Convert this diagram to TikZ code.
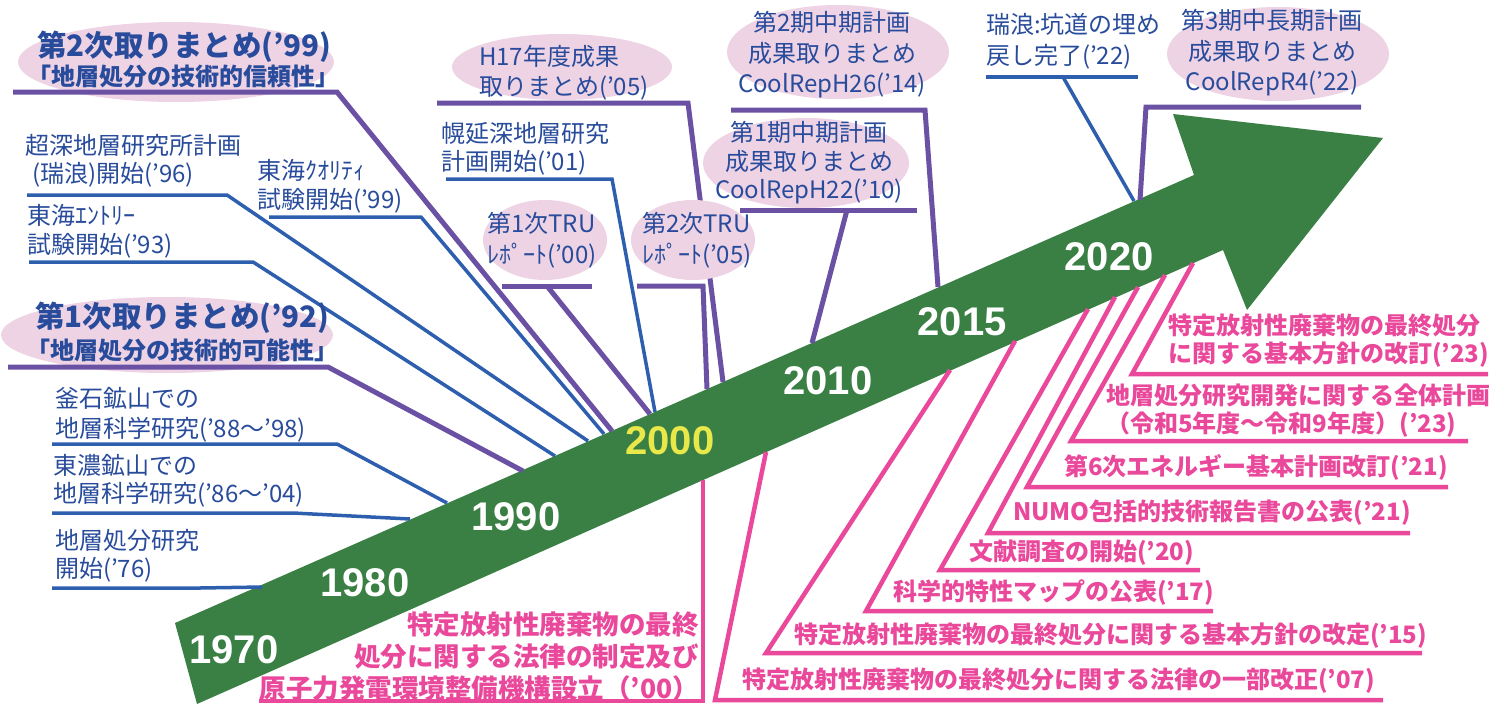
\documentclass[tikz,border=0pt]{standalone}
\usepackage{fontspec}
\setmainfont{Noto Sans CJK JP}
\newfontfamily\yearfont{Liberation Sans}
\usepackage{tikz}

\definecolor{bandgreen}{HTML}{3A8045}
\definecolor{lineblue}{HTML}{2E5FAF}
\definecolor{textblue}{HTML}{284B9B}
\definecolor{linepurple}{HTML}{6A51A3}
\definecolor{pinkline}{HTML}{E9489B}
\definecolor{bubble}{HTML}{EDD3E4}
\definecolor{yellow2000}{HTML}{E8E84B}

\begin{document}
\begin{tikzpicture}[x=1pt,y=-1pt,
  txtblue/.style={text=textblue,font=\fontsize{24}{28.5}\selectfont,inner sep=0pt,align=left,anchor=west},
  txtloose/.style={txtblue,font=\fontsize{24}{30.5}\selectfont},
  txtbig/.style={text=textblue,font=\bfseries\fontsize{29.5}{30}\selectfont,inner sep=0pt,anchor=west},
  txtsub/.style={text=textblue,font=\bfseries\fontsize{24}{26}\selectfont,inner sep=0pt,anchor=west},
  txtpink/.style={text=pinkline,font=\bfseries\fontsize{24}{28}\selectfont,inner sep=0pt,align=left,anchor=west},
  lnblue/.style={draw=lineblue,line width=3.5pt},
  lnpurple/.style={draw=linepurple,line width=5pt},
  lnpink/.style={draw=pinkline,line width=4.5pt},
  yearlbl/.style={text=white,font=\yearfont\bfseries\fontsize{40}{40}\selectfont,inner sep=0pt}]
  \useasboundingbox (0,0) rectangle (1504,704);
  \def\bub#1#2#3#4{\fill[bubble] (#1,#2) ellipse [x radius=#3,y radius=#4];}

  % bubbles behind the reports
  \bub{176}{62}{158}{40}
  \bub{167}{335}{166}{38}
  \bub{562}{67}{110}{33}
  \bub{838}{52}{111}{47}
  \bub{806}{163}{103}{45}
  \bub{545}{240}{62}{40}
  \bub{1278}{54}{111}{47}

  % the time arrow
  \fill[bandgreen] (175,623) -- (1194,175) -- (1173,114) -- (1383,138)
    -- (1247,310) -- (1223,250) -- (197,704) -- cycle;

  % blue leaders: underline from s to knee k, then down to the arrow at e
  \foreach \nm/\sx/\kx/\ky/\ex/\ey in {kaishi/52/200/588/262/587, tono/52/293/513/410/519,
      kama/52/337/444/447/503, entry/29/253/262/555/456, choshin/27/227/195/588/441,
      quality/269/421/217/604/434, horo/446/612/179/655/412} {
    \coordinate (\nm-s) at (\sx,\ky);
    \coordinate (\nm-k) at (\kx,\ky);
    \coordinate (\nm-e) at (\ex,\ey);
    \draw[lnblue] (\nm-s) -- (\nm-k) -- (\nm-e);
  }
  % purple leaders
  \foreach \nm/\sx/\kx/\ky/\ex/\ey in {matome2/13/337/92/612/431, matome1/8/328/367/523/471,
      tru2/637/703/286/707/389, hseventeen/437/688/103/723/382, kiki2/731/925/110/938/287,
      kiki3/1361/1146/107/1140/200} {
    \coordinate (\nm-s) at (\sx,\ky);
    \coordinate (\nm-k) at (\kx,\ky);
    \coordinate (\nm-e) at (\ex,\ey);
    \draw[lnpurple] (\nm-s) -- (\nm-k) -- (\nm-e);
  }
  % leaders that start in the middle of their underline
  \coordinate (mizu-s) at (986,77);  \coordinate (mizu-r) at (1138,77);
  \coordinate (mizu-k) at (1063,77); \coordinate (mizu-e) at (1134,201);
  \draw[lnblue] (mizu-s) -- (mizu-r);
  \draw[lnblue] (mizu-k) -- (mizu-e);
  \coordinate (tru1-s) at (502,286); \coordinate (tru1-r) at (592,286);
  \coordinate (tru1-k) at (547,286); \coordinate (tru1-e) at (650,414);
  \draw[lnpurple] (tru1-s) -- (tru1-r);
  \draw[lnpurple] (tru1-k) -- (tru1-e);
  \coordinate (kiki1-s) at (740,210); \coordinate (kiki1-r) at (917,210);
  \coordinate (kiki1-k) at (847,210); \coordinate (kiki1-e) at (812,343);
  \draw[lnpurple] (kiki1-s) -- (kiki1-r);
  \draw[lnpurple] (kiki1-k) -- (kiki1-e);
  % this bubble hides the H17 leader behind it
  \bub{693}{240}{62}{40}

  % pink leaders below the arrow, with their labels
  \foreach \nm/\bx/\by/\kx/\ky/\ex/\tx/\ty/\txt in {
      kaitei23/1193/263/1132/374/1488/1168/341/{特定放射性廃棄物の最終処分\\に関する基本方針の改訂('23)},
      zentai23/1165/275/1071/441/1468/1106/411/{地層処分研究開発に関する全体計画\\（令和5年度～令和9年度）('23)},
      energy21/1138/287/1027/487/1448/1064/467/{第6次エネルギー基本計画改訂('21)},
      numo21/1115/297/988/533/1410/1013/513/{NUMO包括的技術報告書の公表('21)},
      bunken20/1088/309/940/570/1200/969/553/{文献調査の開始('20)},
      map17/1015/341/866/611/1213/893/593/{科学的特性マップの公表('17)},
      hoshin15/950/370/766/653/1422/794/636/{特定放射性廃棄物の最終処分に関する基本方針の改定('15)},
      kaisei07/766/452/715/700/1383/742/681/{特定放射性廃棄物の最終処分に関する法律の一部改正('07)}} {
    \coordinate (\nm-b) at (\bx,\by);
    \coordinate (\nm-k) at (\kx,\ky);
    \coordinate (\nm-e) at (\ex,\ky);
    \draw[lnpink] (\nm-b) -- (\nm-k) -- (\nm-e);
    \node[txtpink] (\nm) at (\tx,\ty) {\txt};
  }
  \coordinate (horitsu00-b) at (703,480);
  \coordinate (horitsu00-k) at (703,701);
  \coordinate (horitsu00-e) at (259,701);
  \draw[lnpink] (horitsu00-b) -- (horitsu00-k) -- (horitsu00-e);
  \node[txtpink,font=\bfseries\fontsize{26.5}{32}\selectfont,align=right,anchor=east] (horitsu00)
    at (699,657) {特定放射性廃棄物の最終\\処分に関する法律の制定及び\\原子力発電環境整備機構設立（'00）};

  % blue labels
  \node[txtbig] (matome2) at (37,47) {第2次取りまとめ('99)};
  \node[txtsub] (matome2sub) at (27,76) {「地層処分の技術的信頼性」};
  \node[txtbig] (matome1) at (35,318) {第1次取りまとめ('92)};
  \node[txtsub] (matome1sub) at (26,350) {「地層処分の技術的可能性」};
  \node[txtblue] (choshin) at (25,161) {超深地層研究所計画\\\hspace*{7pt}(瑞浪)開始('96)};
  \node[txtblue] (entry) at (27,231.5) {東海ｴﾝﾄﾘｰ\\試験開始('93)};
  \node[txtblue] (quality) at (257,186.5) {東海ｸｵﾘﾃｨ\\試験開始('99)};
  \node[txtloose] (kama) at (55,415) {釜石鉱山での\\地層科学研究('88～'98)};
  \node[txtblue] (tono) at (53,481) {東濃鉱山での\\地層科学研究('86～'04)};
  \node[txtblue] (kaishi) at (55,556) {地層処分研究\\開始('76)};
  \node[txtblue] (horo) at (441,149) {幌延深地層研究\\計画開始('01)};
  \node[txtloose] (hseventeen) at (479,72.5) {H17年度成果\\取りまとめ('05)};
  \node[txtloose] (tru1) at (487,240) {第1次TRU\\ﾚﾎﾟｰﾄ('00)};
  \node[txtloose] (tru2) at (642,240) {第2次TRU\\ﾚﾎﾟｰﾄ('05)};
  \node[txtblue,align=center,anchor=center] (kiki1) at (809,163) {第1期中期計画\\成果取りまとめ\\CoolRepH22('10)};
  \node[txtloose,align=center,anchor=center] (kiki2) at (832,55) {第2期中期計画\\成果取りまとめ\\CoolRepH26('14)};
  \node[txtloose] (mizu) at (986,41.5) {瑞浪:坑道の埋め\\戻し完了('22)};
  \node[txtloose,align=center,anchor=center] (kiki3) at (1272,53) {第3期中長期計画\\成果取りまとめ\\CoolRepR4('22)};

  % years on the arrow
  \foreach \yr/\px/\py in {1970/234/650, 1980/365/583, 1990/516/517, 2010/828/381, 2015/962/322, 2020/1109/257} {
    \node[yearlbl] (y\yr) at (\px,\py) {\yr};
  }
  \node[yearlbl,text=yellow2000] (y2000) at (670,441) {2000};
\end{tikzpicture}
\end{document}
